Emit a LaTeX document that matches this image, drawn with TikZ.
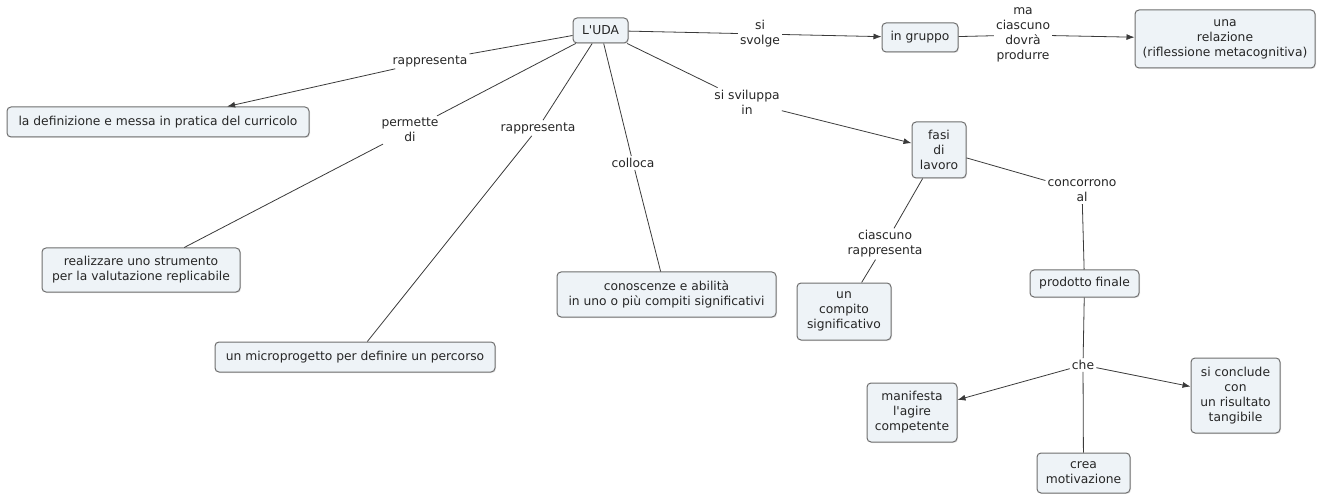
\documentclass[tikz,border=0pt]{standalone}
\usepackage{fontspec}
\setmainfont{DejaVu Sans}
\usetikzlibrary{arrows.meta,shadows}
\definecolor{boxfill}{HTML}{EEF3F7}
\definecolor{boxline}{HTML}{6E6E6E}
\definecolor{linkcol}{HTML}{3A3A3A}
\tikzset{
  concept/.style={draw=boxline, line width=1pt, fill=boxfill, rounded corners=4pt,
    align=center, inner sep=1pt, font=\fontsize{12.3}{15}\selectfont, text=black!85,
    drop shadow={shadow xshift=1pt, shadow yshift=-1pt, fill=gray!35}},
  linklabel/.style={align=center, inner sep=2pt, font=\fontsize{12.3}{15}\selectfont, text=black!85},
  link/.style={draw=linkcol, line width=0.8pt},
  arr/.style={link, -{Latex[length=8pt,width=6pt]}}
}
\begin{document}
\begin{tikzpicture}[x=1pt,y=-1pt]
\path[use as bounding box] (0,0) rectangle (1319,494);
% concepts
\node[concept, minimum width=55pt, minimum height=25pt] (uda) at (600.5,30.5) {L\textquotesingle UDA};
\node[concept, minimum width=76pt, minimum height=29pt] (gruppo) at (920,37.5) {in gruppo};
\node[concept, minimum width=180pt, minimum height=58pt] (relazione) at (1225,39) {una\\relazione\\(riflessione metacognitiva)};
\node[concept, minimum width=302pt, minimum height=30pt] (definizione) at (158,122) {la definizione e messa in pratica del curricolo};
\node[concept, minimum width=198pt, minimum height=44pt] (realizzare) at (141,270) {realizzare uno strumento\\per la valutazione replicabile};
\node[concept, minimum width=280pt, minimum height=30pt] (micro) at (355,357) {un microprogetto per definire un percorso};
\node[concept, minimum width=219pt, minimum height=45pt] (conoscenze) at (666.5,294.5) {conoscenze e abilità\\in uno o più compiti significativi};
\node[concept, minimum width=54pt, minimum height=56pt] (fasi) at (939,150) {fasi\\di\\lavoro};
\node[concept, minimum width=94pt, minimum height=57pt] (compito) at (844,311.5) {un\\compito\\significativo};
\node[concept, minimum width=109pt, minimum height=27pt] (prodotto) at (1084.5,283.5) {prodotto finale};
\node[concept, minimum width=90pt, minimum height=59pt] (manifesta) at (912,412.5) {manifesta\\l\textquotesingle agire\\competente};
\node[concept, minimum width=89pt, minimum height=75pt] (conclude) at (1235.5,395.5) {si conclude\\con\\un risultato\\tangibile};
\node[concept, minimum width=93pt, minimum height=40pt] (crea) at (1083.5,473) {crea\\motivazione};
% link labels
\node[linklabel] (l1) at (430,61) {rappresenta};
\node[linklabel] (l2) at (410,130) {permette\\di};
\node[linklabel] (l3) at (538,128) {rappresenta};
\node[linklabel] (l4) at (633,163) {colloca};
\node[linklabel] (l5) at (760,34) {si\\svolge};
\node[linklabel] (l6) at (747,102) {si sviluppa\\in};
\node[linklabel] (l7) at (1023,35) {ma\\ciascuno\\dovrà\\produrre};
\node[linklabel] (l8) at (885,244) {ciascuno\\rappresenta};
\node[linklabel] (l9) at (1082,191) {concorrono\\al};
\node[linklabel] (l10) at (1083,365) {che};
% connectors
\draw[link] (uda) -- (l1);
\draw[arr] (l1) -- (definizione);
\draw[link] (uda) -- (l2);
\draw[link] (l2) -- (realizzare);
\draw[link] (uda) -- (l3);
\draw[link] (l3) -- (micro);
\draw[link] (uda) -- (l4);
\draw[link] (l4) -- (conoscenze);
\draw[link] (uda) -- (l5);
\draw[arr] (l5) -- (gruppo);
\draw[link] (uda) -- (l6);
\draw[arr] (l6) -- (fasi);
\draw[link] (gruppo) -- (l7);
\draw[arr] (l7) -- (relazione);
\draw[link] (fasi) -- (l8);
\draw[link] (l8) -- (compito);
\draw[link] (fasi) -- (l9);
\draw[link] (l9) -- (prodotto);
\draw[link] (prodotto) -- (l10);
\draw[arr] (l10) -- (manifesta);
\draw[arr] (l10) -- (conclude);
\draw[link] (l10) -- (crea);
\end{tikzpicture}
\end{document}
